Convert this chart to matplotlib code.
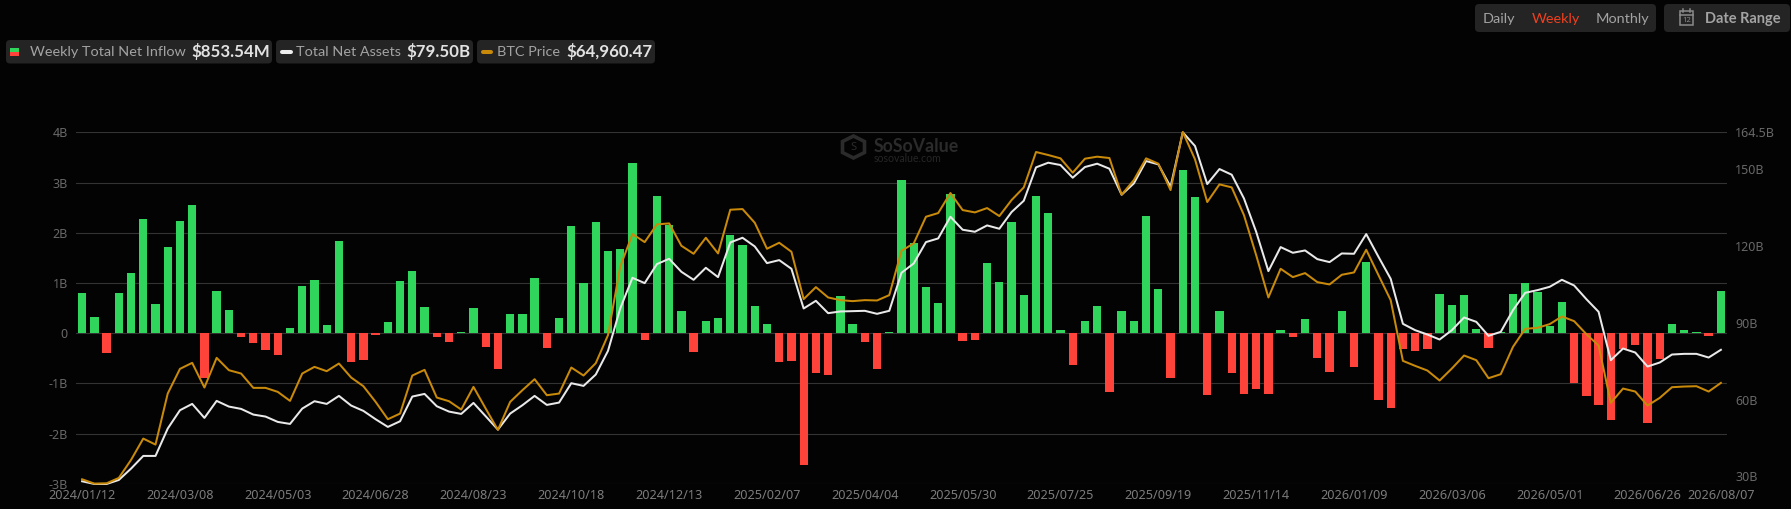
#!/usr/bin/env python3

import matplotlib
matplotlib.use("Agg")
import matplotlib.pyplot as plt
from matplotlib.patches import FancyBboxPatch, Polygon, Rectangle
import numpy as np

W, H = 1791, 509
BG = "#030303"

# weekly net inflow, $B
net_inflow = [0.81, 0.33, -0.40, 0.81, 1.19, 2.27, 0.58, 1.72, 2.24, 2.56, -0.89, 0.85, 0.47, -0.08, -0.20,
              -0.33, -0.43, 0.11, 0.94, 1.06, 0.17, 1.83, -0.58, -0.54, -0.03, 0.23, 1.04, 1.24, 0.53, -0.08,
              -0.17, 0.03, 0.50, -0.27, -0.71, 0.39, 0.39, 1.10, -0.30, 0.30, 2.13, 1.00, 2.22, 1.63, 1.67,
              3.38, -0.13, 2.73, 2.16, 0.44, -0.38, 0.24, 0.30, 1.96, 1.75, 0.55, 0.19, -0.58, -0.56, -2.63,
              -0.80, -0.84, 0.74, 0.19, -0.17, -0.71, 0.02, 3.05, 1.80, 0.93, 0.60, 2.77, -0.15, -0.13, 1.39,
              1.02, 2.21, 0.77, 2.73, 2.39, 0.07, -0.64, 0.24, 0.55, -1.17, 0.44, 0.24, 2.34, 0.88, -0.90,
              3.24, 2.71, -1.23, 0.44, -0.80, -1.22, -1.11, -1.21, 0.07, -0.08, 0.28, -0.49, -0.78, 0.45, -0.68,
              1.41, -1.33, -1.48, -0.31, -0.35, -0.31, 0.78, 0.56, 0.76, 0.09, -0.29, 0.02, 0.78, 1.00, 0.82,
              0.14, 0.62, -1.00, -1.25, -1.42, -1.72, -0.31, -0.23, -1.79, -0.52, 0.19, 0.07, 0.03, -0.05, 0.85]

# total net assets, $B
net_assets = [28.12, 27.07, 27.07, 28.64, 33.07, 38.03, 38.03, 48.72, 55.89, 58.36, 52.89, 59.54, 57.32, 56.41, 54.19,
              53.41, 51.32, 50.54, 56.54, 59.41, 58.36, 61.49, 57.71, 55.63, 52.37, 49.37, 51.58, 61.23, 62.27, 57.45,
              55.36, 54.45, 58.75, 53.54, 48.32, 54.58, 57.84, 61.49, 57.97, 58.88, 66.45, 65.40, 69.84, 79.09, 95.65,
              107.64, 105.56, 112.99, 115.07, 109.99, 106.86, 111.55, 107.90, 121.46, 123.29, 119.90, 113.38, 114.55, 111.16, 95.65,
              98.65, 93.82, 94.48, 94.61, 94.74, 93.56, 94.74, 109.60, 113.25, 121.59, 123.03, 131.50, 126.42, 125.63, 128.11,
              126.81, 133.33, 137.76, 150.80, 152.62, 151.71, 146.75, 150.93, 152.23, 150.27, 140.10, 144.54, 153.27, 151.97, 143.23,
              164.48, 159.14, 144.28, 150.14, 147.93, 138.67, 125.63, 110.25, 119.64, 117.42, 118.33, 114.94, 113.77, 117.16, 117.03,
              124.72, 115.86, 107.25, 89.65, 87.17, 85.48, 83.52, 87.17, 92.13, 90.43, 84.96, 86.52, 95.00, 101.78, 102.82,
              104.12, 106.86, 104.64, 99.30, 94.35, 75.44, 80.00, 78.44, 72.96, 74.53, 77.66, 77.92, 77.92, 76.48, 79.50]

# BTC price, $
btc_price = [41934, 40898, 40978, 42253, 46557, 51657, 50223, 62417, 68315, 69749, 63852, 70945, 67996, 67199, 63772,
             63772, 62815, 60664, 67199, 68793, 67757, 69590, 66243, 64170, 60424, 56280, 57635, 66721, 68076, 61461,
             60584, 58591, 64011, 58830, 53730, 60424, 63214, 65844, 62018, 62417, 68634, 66721, 69670, 76364, 92703,
             100514, 98601, 102825, 103064, 97724, 95811, 99637, 95891, 106332, 106491, 103223, 97007, 98441, 96289, 84972,
             87841, 85371, 84733, 84494, 84733, 84653, 85928, 96529, 98282, 104658, 105535, 110317, 106252, 105694, 106730,
             104817, 108643, 111672, 120120, 119402, 118605, 115178, 118526, 119004, 118685, 109918, 113425, 118605, 117330, 111034,
             124902, 118366, 108165, 112389, 111672, 105056, 95492, 85371, 92225, 90232, 91189, 89037, 88479, 90790, 91348,
             96768, 90710, 84733, 70228, 69032, 67916, 65525, 68394, 71503, 70387, 66083, 67040, 73575, 77879, 78118,
             78995, 80828, 79712, 76604, 73894, 60185, 63612, 62895, 59548, 61381, 63931, 64091, 64170, 62895, 64960]

date_ticks = [0, 8, 16, 24, 32, 40, 48, 56, 64, 72, 80, 88, 96, 104, 112, 120, 128, 134]
date_labels = ["2024/01/12", "2024/03/08", "2024/05/03", "2024/06/28", "2024/08/23", "2024/10/18",
               "2024/12/13", "2025/02/07", "2025/04/04", "2025/05/30", "2025/07/25", "2025/09/19",
               "2025/11/14", "2026/01/09", "2026/03/06", "2026/05/01", "2026/06/26", "2026/08/07"]
left_ticks = [4, 3, 2, 1, 0, -1, -2, -3]
left_labels = ["4B", "3B", "2B", "1B", "0", "-1B", "-2B", "-3B"]
right_ticks = [30, 60, 90, 120, 150, 164.5]
right_labels = ["30B", "60B", "90B", "120B", "150B", "164.5B"]

GREEN = "#30d55c"
RED = "#ff433b"
WHITE_LINE = "#e9e9e9"
ORANGE = "#c98a0a"
GRID = "#333333"
PILL = "#242424"

plt.rcParams["font.family"] = ["Noto Sans", "DejaVu Sans"]

fig = plt.figure(figsize=(W / 100, H / 100), dpi=100, facecolor=BG)

# overlay in pixel coordinates for the legend pills and buttons
top = fig.add_axes([0, 0, 1, 1])
top.set_xlim(0, W)
top.set_ylim(H, 0)
top.axis("off")


def pill(x0, x1, y0, y1):
    top.add_patch(FancyBboxPatch((x0 + 3, y0 + 3), x1 - x0 - 6, y1 - y0 - 6,
                                 boxstyle="round,pad=3,rounding_size=4", fc=PILL, ec="none"))


def label(x, y, s, color="#a3a3a3", size=10.35, bold=False, ha="left"):
    top.text(x, y, s, color=color, fontsize=size, family="Lato",
             fontweight="bold" if bold else "normal", va="center", ha=ha)


pill(6, 272, 40, 63.5)
pill(276, 473, 40, 63.5)
pill(477, 655, 40, 63.5)
top.add_patch(Rectangle((10, 47.5), 8.5, 4.2, fc=GREEN, ec="none"))
top.add_patch(Rectangle((10, 51.7), 8.5, 4.3, fc=RED, ec="none"))
top.plot([282, 291], [51.7, 51.7], color="#eeeeee", lw=2.9, solid_capstyle="round")
top.plot([483, 491], [51.7, 51.7], color=ORANGE, lw=2.9, solid_capstyle="round")
label(30, 51.5, "Weekly Total Net Inflow")
label(191, 51.5, "$853.54M", color="#e2e2e2", size=12.2, bold=True)
label(296.5, 51.5, "Total Net Assets")
label(406, 51.5, "$79.50B", color="#e2e2e2", size=12.2, bold=True)
label(497, 51.5, "BTC Price")
label(566, 51.5, "$64,960.47", color="#e2e2e2", size=12.2, bold=True)

pill(1475, 1656, 4, 32)
pill(1664, 1790, 4, 32)
label(1483, 18.5, "Daily")
label(1532, 18.5, "Weekly", color="#f0401e")
label(1596, 18.5, "Monthly")
label(1705, 18.5, "Date Range", bold=True, size=10.5)
top.add_patch(Rectangle((1679.5, 11), 13.5, 14, fc="none", ec="#8a8a8a", lw=1.1))
top.plot([1679.5, 1693], [14.5, 14.5], color="#8a8a8a", lw=1.1)
top.plot([1683, 1683], [9, 12], color="#8a8a8a", lw=1.1)
top.plot([1689.5, 1689.5], [9, 12], color="#8a8a8a", lw=1.1)
top.text(1686.3, 20, "12", color="#8a8a8a", fontsize=5.5, ha="center", va="center")

# watermark
hex_x = [853.5, 864.5, 864.5, 853.5, 842.5, 842.5]
hex_y = [136, 141.5, 152.5, 158, 152.5, 141.5]
top.add_patch(Polygon(np.column_stack([hex_x, hex_y]), closed=True, fc="none", ec="#2b2b2b", lw=2.6))
top.text(853.5, 147, "S", color="#2b2b2b", fontsize=8, fontweight="bold", ha="center", va="center")
top.text(874, 146, "SoSoValue", color="#2b2b2b", fontsize=12.8, fontweight="bold", family="Lato", va="center")
top.text(874, 158.5, "sosovalue.com", color="#262626", fontsize=7.6, family="Lato", va="center")

# main chart, sits on top of the overlay
ax_left, ax_right, ax_top, ax_bottom = 76, 1727, 132.3, 483.9
rect = [ax_left / W, 1 - ax_bottom / H, (ax_right - ax_left) / W, (ax_bottom - ax_top) / H]
ax = fig.add_axes(rect, facecolor="none")
ax2 = ax.twinx()
ax3 = ax.twinx()

x = np.arange(len(net_inflow))
bar_colors = [GREEN if v >= 0 else RED for v in net_inflow]
ax.grid(axis="y", color=GRID, lw=0.8, zorder=0)
ax.set_axisbelow(True)
ax.bar(x, net_inflow, width=0.68, color=bar_colors, zorder=2)
ax.set_xlim(-0.5, len(net_inflow) - 0.5)
ax.set_ylim(-3.0, 4.0)
ax.set_yticks(left_ticks)
ax.set_yticklabels(left_labels)
ax.set_xticks(date_ticks)
ax.set_xticklabels(date_labels)
ax.tick_params(axis="y", length=0, pad=5.8, labelsize=9, labelcolor="#686868")
ax.tick_params(axis="x", length=0, pad=3.5, labelsize=9.1, labelcolor="#7c7c7c")

ax2.plot(x, net_assets, color=WHITE_LINE, lw=1.45, zorder=3, clip_on=False)
ax2.set_ylim(27.1, 164.5)
ax2.set_yticks(right_ticks)
ax2.set_yticklabels(right_labels)
ax2.tick_params(axis="y", length=0, pad=5.8, labelsize=9, labelcolor="#686868")

ax3.plot(x, btc_price, color=ORANGE, lw=1.45, zorder=4, clip_on=False)
ax3.set_ylim(40830, 124830)
ax3.set_yticks([])

for a in (ax, ax2, ax3):
    for s in a.spines.values():
        s.set_visible(False)

fig.savefig("out.png", dpi=100, facecolor=BG)
plt.close(fig)
